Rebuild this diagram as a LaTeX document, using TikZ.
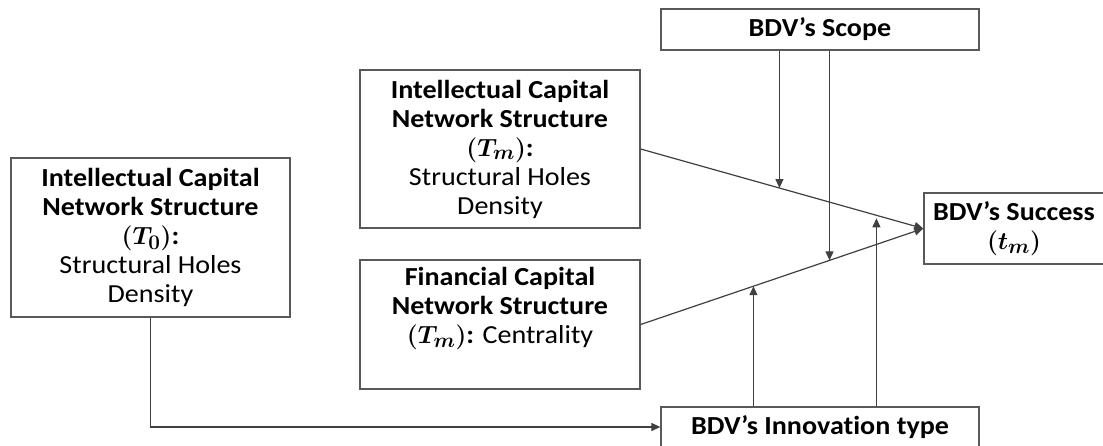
\documentclass[tikz,border=0pt]{standalone}
\usepackage{fontspec}
\setmainfont{Carlito}[FakeStretch=1.08, Ligatures=NoCommon]
\usepackage{bm}
\usetikzlibrary{arrows.meta,calc}

\tikzset{
  box/.style={draw=black!65, line width=1.3pt, inner sep=0pt, align=center,
              font=\fontsize{26}{29}\selectfont\bfseries},
  conn/.style={draw=black!75, line width=1.2pt},
  arr/.style={conn, -{Triangle[length=9pt,width=8pt]}},
}
\newcommand{\reg}[1]{{\mdseries #1}}
\newcommand{\period}[1]{{\fontsize{29}{29}\selectfont$\bm{#1}$}}

\begin{document}
\begin{tikzpicture}[x=1pt,y=-1pt]
  \useasboundingbox (0,0) rectangle (1103,446);
  \fill[white] (0,0) rectangle (1103,446);

  % boxes
  \node[box, minimum width=279pt, minimum height=159pt] (icT0) at (150.5,237.5)
    {Intellectual Capital\\Network Structure\\\period{(T_0)}:\\\reg{Structural Holes}\\\reg{Density}};
  \node[box, minimum width=280pt, minimum height=158pt] (icTm) at (500,149)
    {Intellectual Capital\\Network Structure\\\period{(T_m)}:\\\reg{Structural Holes}\\\reg{Density}};
  \node[box, minimum width=280pt, minimum height=129pt] (fcTm) at (500,324.5)
    {Financial Capital\\Network Structure\\\period{(T_m)}: \reg{Centrality}\\\strut};
  \node[box, minimum width=318pt, minimum height=41pt] (scope) at (820,29.5)
    {BDV’s Scope};
  \node[box, minimum width=180pt, minimum height=71pt] (succ) at (1014,228.5)
    {BDV’s Success\\\period{(t_m)}};
  \node[box, minimum width=318pt, minimum height=40pt] (inno) at (820,427)
    {BDV’s Innovation type};

  % main effects
  \draw[arr] (icTm.east) -- (succ.west)
    coordinate[pos=0.491] (mb1) coordinate[pos=0.834] (mb2);
  \draw[arr] (fcTm.east) -- (succ.west)
    coordinate[pos=0.668] (mc1) coordinate[pos=0.399] (mc2);

  % moderators
  \draw[arr] (scope.south -| mb1) -- (mb1);
  \draw[arr] (scope.south -| mc1) -- (mc1);
  \draw[arr] (inno.north -| mc2) -- (mc2);
  \draw[arr, shorten >=3pt] (inno.north -| mb2) -- (mb2);

  % lagged network structure to innovation type
  \draw[arr] (icT0.south) |- (inno.west);
\end{tikzpicture}
\end{document}
